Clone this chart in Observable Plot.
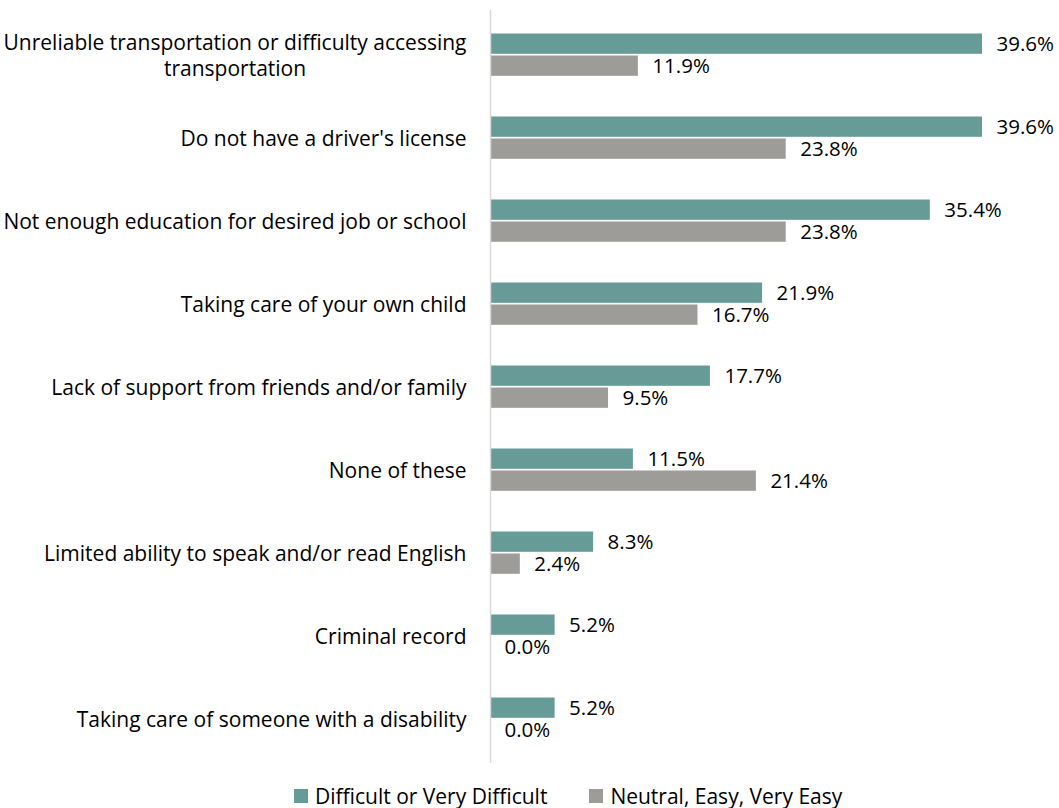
<!DOCTYPE html>
<html><head><meta charset="utf-8">
<script src="https://cdn.jsdelivr.net/npm/d3@7"></script>
<script src="https://cdn.jsdelivr.net/npm/@observablehq/plot@0.6"></script>
<style>
body{margin:0;background:#fff;font-family:"Open Sans",sans-serif;color:#000;}
#chart svg{display:block;}
#legend{display:flex;align-items:center;padding-left:294px;height:62px;font-size:21px;line-height:1;}
.item{display:flex;align-items:center;}
.sw{width:14px;height:14px;margin-right:7px;}
</style></head><body>
<div id="chart"></div>
<div id="legend"></div>
<script>
const categories = [
  "Unreliable transportation or difficulty accessing\ntransportation",
  "Do not have a driver's license",
  "Not enough education for desired job or school",
  "Taking care of your own child",
  "Lack of support from friends and/or family",
  "None of these",
  "Limited ability to speak and/or read English",
  "Criminal record",
  "Taking care of someone with a disability"
];
const difficult = [39.6, 39.6, 35.4, 21.9, 17.7, 11.5, 8.3, 5.2, 5.2];
const neutral = [11.9, 23.8, 23.8, 16.7, 9.5, 21.4, 2.4, 0.0, 0.0];
const seriesNames = ["Difficult or Very Difficult", "Neutral, Easy, Very Easy"];
const colors = ["#669b97", "#9e9c98"];

const diffData = categories.map((c, i) => ({category: c, value: difficult[i]}));
const neutData = categories.map((c, i) => ({category: c, value: neutral[i]}));
const fmt = d => d.value.toFixed(1) + "%";

const chart = Plot.plot({
  width: 1059,
  height: 765,
  marginLeft: 490,
  marginRight: 77,
  marginTop: 10,
  marginBottom: 2,
  style: {fontFamily: "'Open Sans', sans-serif", fontSize: "21px", color: "#000", background: "#fff"},
  x: {domain: [0, 39.6], axis: null},
  y: {domain: categories, padding: 0, label: null, tickSize: 0, tickPadding: 24},
  marks: [
    Plot.barX(diffData, {x: "value", y: "category", fill: colors[0], insetTop: 20.5, insetBottom: 42.2}),
    Plot.barX(neutData, {x: "value", y: "category", fill: colors[1], insetTop: 42.5, insetBottom: 20.2}),
    Plot.ruleX([0], {stroke: "#d9d9d9", strokeWidth: 1.5}),
    Plot.text(diffData, {x: "value", y: "category", text: fmt, dx: 14, dy: -10.8, textAnchor: "start", fill: "#000", fontSize: 20.5}),
    Plot.text(neutData, {x: "value", y: "category", text: fmt, dx: 14, dy: 11.5, textAnchor: "start", fill: "#000", fontSize: 20.5}),
    Plot.axisY({tickSize: 0, tickPadding: 24, fontSize: 21, label: null, lineHeight: 1.2})
  ]
});
document.getElementById("chart").appendChild(chart);

// center shorter lines of wrapped labels under the longest line
chart.querySelectorAll("[aria-label='y-axis tick label'] text").forEach(t => {
  const spans = t.querySelectorAll("tspan");
  if (spans.length > 1) {
    const w = Array.from(spans, s => s.getComputedTextLength());
    const m = Math.max(...w);
    spans.forEach((s, i) => s.setAttribute("dx", -(m - w[i]) / 2));
  }
});

const legend = document.getElementById("legend");
seriesNames.forEach((name, i) => {
  const it = document.createElement("div");
  it.className = "item";
  if (i > 0) it.style.marginLeft = "42px";
  const sw = document.createElement("span");
  sw.className = "sw";
  sw.style.background = colors[i];
  const tx = document.createElement("span");
  tx.textContent = name;
  it.appendChild(sw); it.appendChild(tx);
  legend.appendChild(it);
});
</script>
</body></html>
